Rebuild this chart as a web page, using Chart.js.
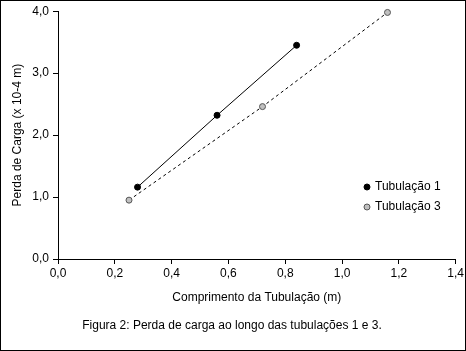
<!DOCTYPE html>
<html>
<head>
<meta charset="utf-8">
<script src="https://cdn.jsdelivr.net/npm/chart.js@4"></script>
<style>
  html, body { margin: 0; padding: 0; background: #fff; }
  #wrap { width: 466px; height: 351px; }
</style>
</head>
<body>
<div id="wrap"><canvas id="chart" width="466" height="351"></canvas></div>
<script>
// dados
var tub1X = [0.28, 0.56, 0.84];
var tub1Y = [1.16, 2.32, 3.45];
var tub3X = [0.25, 0.72, 1.16];
var tub3Y = [0.95, 2.46, 3.98];
var seriesNames = ['Tubulação 1', 'Tubulação 3'];
var xTitle = 'Comprimento da Tubulação (m)';
var yTitle = 'Perda de Carga (x 10-4 m)';
var caption = 'Figura 2: Perda de carga ao longo das tubulações 1 e 3.';

var FONT = 'Liberation Sans, Arial, sans-serif';

function pts(xs, ys) {
    return xs.map(function(x, i) { return {x: x, y: ys[i]}; });
}
function virgula(v) {
    return Number(v).toFixed(1).replace('.', ',');
}

// legenda, legenda da figura e moldura
var extras = {
    id: 'extras',
    afterDraw: function(chart) {
        var ctx = chart.ctx;
        ctx.save();
        ctx.strokeStyle = '#000';
        ctx.lineWidth = 1;
        ctx.strokeRect(0.5, 0.5, chart.width - 1, chart.height - 1);

        ctx.font = '12px ' + FONT;
        ctx.fillStyle = '#000';
        ctx.textBaseline = 'middle';
        ctx.textAlign = 'center';
        ctx.fillText(caption, 232, 326);

        ctx.textAlign = 'left';
        chart.data.datasets.forEach(function(ds, i) {
            var y = 187 + i * 20;
            ctx.beginPath();
            ctx.arc(367, y, 3, 0, Math.PI * 2);
            ctx.fillStyle = ds.pointBackgroundColor;
            ctx.fill();
            ctx.strokeStyle = ds.pointBorderColor;
            ctx.stroke();
            ctx.fillStyle = '#000';
            ctx.fillText(ds.label, 375, y);
        });
        ctx.restore();
    }
};

var ctx = document.getElementById('chart').getContext('2d');
var chart = new Chart(ctx, {
    type: 'scatter',
    data: {
        datasets: [{
            label: seriesNames[0],
            data: pts(tub1X, tub1Y),
            showLine: true,
            clip: false,
            borderColor: '#000',
            borderWidth: 1,
            pointRadius: 3,
            pointBackgroundColor: '#000',
            pointBorderColor: '#000',
            pointBorderWidth: 1
        }, {
            label: seriesNames[1],
            data: pts(tub3X, tub3Y),
            showLine: true,
            clip: false,
            borderColor: '#000',
            borderWidth: 1,
            borderDash: [3, 3],
            pointRadius: 3,
            pointBackgroundColor: '#c0c0c0',
            pointBorderColor: '#555',
            pointBorderWidth: 1
        }]
    },
    options: {
        responsive: false,
        animation: false,
        layout: { padding: { left: 0, right: 8, top: 11, bottom: 0 } },
        plugins: {
            legend: { display: false },
            tooltip: { enabled: false }
        },
        scales: {
            x: {
                type: 'linear',
                min: 0, max: 1.4,
                border: { color: '#000', width: 1 },
                grid: { drawOnChartArea: false, color: '#000', tickLength: 5, tickWidth: 1 },
                ticks: {
                    stepSize: 0.2, color: '#000', padding: 2,
                    font: { family: FONT, size: 12 },
                    maxRotation: 0,
                    callback: function(v) { return virgula(v); }
                },
                title: {
                    display: true, text: xTitle, color: '#000',
                    font: { family: FONT, size: 12 },
                    padding: { top: 0, bottom: 46 }
                },
                afterFit: function(s) { s.height = 92; }
            },
            y: {
                type: 'linear',
                min: 0, max: 4,
                border: { color: '#000', width: 1 },
                grid: { drawOnChartArea: false, color: '#000', tickLength: 5, tickWidth: 1 },
                ticks: {
                    stepSize: 1, color: '#000', padding: 4,
                    font: { family: FONT, size: 12 },
                    callback: function(v) { return virgula(v); }
                },
                title: {
                    display: true, text: yTitle, color: '#000',
                    font: { family: FONT, size: 12 },
                    padding: { top: 10, bottom: 0 }
                },
                afterFit: function(s) { s.width = 58; }
            }
        }
    },
    plugins: [extras]
});
</script>
</body>
</html>
